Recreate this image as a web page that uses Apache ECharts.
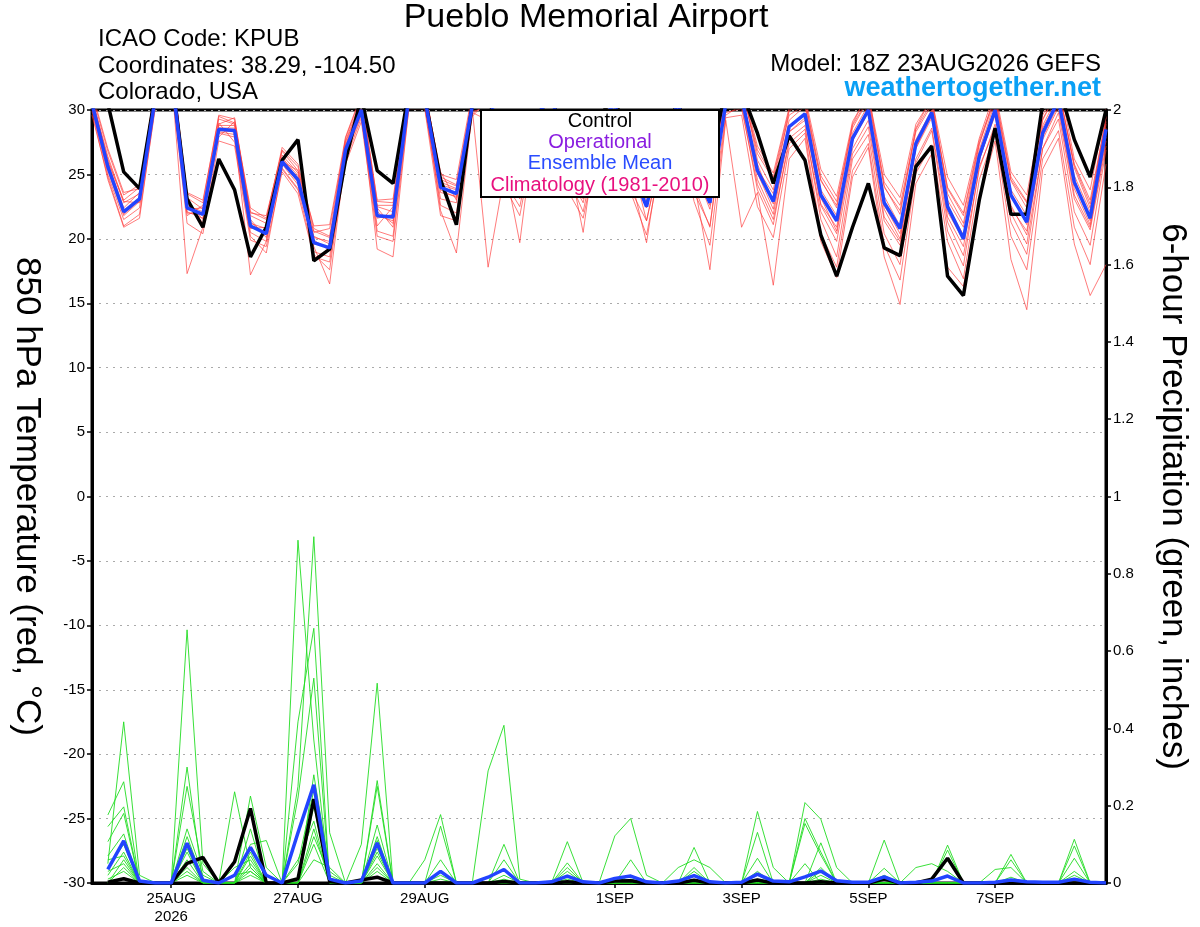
<!DOCTYPE html>
<html>
<head>
<meta charset="utf-8">
<script src="https://cdn.jsdelivr.net/npm/echarts@6/dist/echarts.min.js"></script>
<style>
html,body{margin:0;padding:0;background:#fff;overflow:hidden;}
#chart{width:1200px;height:927px;}
</style>
</head>
<body>
<div id="chart"></div>
<script>
// ---- time steps: 6-hourly from 18Z 23AUG2026 (65 steps) ----
const steps = Array.from({length: 65}, (_, i) => String(i * 6));
const tickIndex = [5, 13, 21, 33, 41, 49, 57];
const tickText = ['25AUG\n2026', '27AUG', '29AUG', '1SEP', '3SEP', '5SEP', '7SEP'];

// ---- 850 hPa temperature (°C) ----
const tempControl = [
 31.5,30.5,25.2,23.9, 31.3,33.0,23.1,20.9, 26.2,23.8,18.6,20.9, 26.1,27.7,18.3,19.2,
 26.1,31.0,25.3,24.3, 31.5,31.0,24.6,21.1, 30.5,31.0,27.0,25.0, 29.5,31.0,27.0,25.5,
 29.5,31.0,26.5,24.0, 28.5,30.5,27.0,26.0, 31.5,31.5,28.2,24.3, 28.0,26.1,20.3,17.1,
 20.9,24.3,19.3,18.7, 25.6,27.2,17.1,15.6, 23.0,28.6,21.9,21.9, 30.5,32.0,27.7,24.8, 30.0];
const tempMean = [
 30.5,25.6,22.1,23.1, 31.0,33.0,22.4,21.9, 28.5,28.4,21.0,20.4, 26.0,24.6,19.7,19.3,
 26.9,30.0,21.8,21.7, 31.0,31.0,24.0,23.5, 30.3,31.5,26.5,24.5, 29.5,31.0,26.5,24.5,
 29.0,30.5,25.5,22.5, 28.0,30.5,25.5,22.8, 30.5,31.0,25.3,22.9, 28.7,29.7,23.4,21.4,
 27.8,30.0,22.8,20.8, 27.4,29.8,22.5,20.0, 26.4,30.0,23.4,21.3, 28.2,30.8,24.4,21.6, 28.5];
const tempM01 = [30.8,26.2,22.8,23.5, 31.5,33.5,23.0,21.2, 29.0,27.5,20.5,19.8, 26.5,25.1,19.0,18.6, 27.5,30.5,22.4,20.9, 31.2,30.2,23.1,22.8, 30.8,32.0,27.2,25.0, 30.1,30.5,25.8,23.1, 28.4,31.2,26.3,21.4, 27.2,29.6,24.1,20.9, 31.0,32.2,26.1,23.8, 29.9,30.8,24.5,22.6, 28.9,31.4,24.1,21.9, 28.6,31.0,23.5,21.2, 27.3,31.2,24.8,22.9, 29.6,31.8,25.5,22.4, 29.5];
const tempM02 = [30.1,25.0,21.5,22.4, 30.6,32.4,21.8,22.6, 27.9,29.1,21.8,21.2, 25.4,23.8,20.6,20.1, 26.1,29.4,21.0,22.5, 30.4,31.8,24.8,24.2, 29.7,30.6,25.5,23.6, 28.8,31.6,27.1,25.3, 29.7,29.8,24.6,23.2, 28.6,31.3,26.7,24.1, 29.8,30.1,24.2,21.5, 27.4,28.5,22.1,19.8, 26.6,28.7,21.4,19.5, 26.2,28.6,21.3,18.7, 25.4,28.9,22.0,19.6, 27.0,29.8,23.1,20.7, 27.2];
const tempM03 = [31.2,26.8,23.4,24.2, 31.8,33.9,23.5,22.8, 29.6,29.3,22.1,21.5, 27.1,25.8,20.8,20.2, 27.8,31.1,23.0,23.1, 31.8,31.5,25.2,23.0, 31.0,32.8,27.8,26.2, 30.6,32.1,27.4,25.6, 30.2,31.8,26.9,24.0, 29.2,31.8,27.0,23.9, 31.6,31.9,27.2,25.1, 30.2,31.1,25.4,23.3, 29.1,31.2,25.0,23.2, 28.9,30.9,24.8,22.6, 27.8,31.5,25.2,23.4, 30.1,32.4,26.2,23.8, 30.2];
const tempM04 = [29.6,24.8,21.0,21.9, 30.2,32.8,17.3,20.9, 28.2,27.9,20.2,18.9, 25.5,23.9,18.8,17.6, 26.4,29.6,20.6,20.2, 30.6,30.4,22.6,22.0, 29.8,29.2,24.2,21.8, 28.2,29.8,23.8,21.6, 27.5,29.4,23.6,20.3, 26.6,28.6,22.9,19.5, 29.4,29.6,22.5,20.1, 27.0,28.2,20.4,17.8, 25.3,27.4,19.5,16.8, 25.1,27.3,19.8,16.9, 24.6,28.2,20.2,17.6, 26.2,28.4,20.9,18.0, 25.8];
const tempM05 = [30.4,25.9,22.4,23.6, 31.3,33.1,22.9,21.5, 28.8,28.8,21.2,20.8, 26.3,24.9,19.9,19.1, 27.2,30.2,21.8,21.4, 31.1,31.2,24.4,23.9, 30.1,17.8,24.8,24.3, 29.6,31.2,26.2,24.8, 29.1,30.6,25.4,22.4, 28.2,30.7,25.9,22.6, 30.6,31.2,25.8,22.7, 28.8,29.6,23.2,20.6, 27.6,29.8,22.6,20.4, 27.5,29.6,22.6,20.3, 26.6,30.2,23.4,21.1, 28.6,30.9,24.6,21.4, 28.6];
const tempM06 = [30.9,26.4,22.9,22.8, 30.8,32.6,22.3,22.4, 28.3,28.1,17.2,19.8, 25.8,24.2,19.4,16.5, 26.5,29.8,19.2,18.6, 30.2,30.8,22.2,18.9, 29.9,30.2,25.4,23.1, 29.1,30.9,25.1,22.8, 28.6,30.4,24.8,19.7, 27.6,29.9,24.4,17.6, 29.2,20.9,23.6,16.4, 26.2,27.8,19.8,17.0, 24.8,27.1,18.6,14.9, 24.3,26.6,17.8,16.3, 23.1,27.6,18.4,14.5, 25.4,27.8,19.6,15.6, 18.0];
const tempM07 = [30.2,25.3,21.8,22.9, 31.1,33.3,22.6,22.1, 28.6,28.6,20.8,20.9, 25.9,24.4,20.2,19.6, 26.8,30.3,22.1,21.2, 30.9,30.9,23.6,23.3, 30.6,31.6,26.6,24.9, 29.9,31.1,26.7,20.5, 29.4,31.0,25.9,22.9, 28.0,30.4,25.4,22.3, 30.4,30.9,25.1,22.3, 28.3,29.4,22.7,20.9, 27.8,30.1,22.3,20.0, 27.0,29.4,21.7,19.4, 26.2,29.6,22.4,20.6, 27.9,30.4,23.9,21.1, 27.9];
const tempM08 = [31.0,26.0,23.0,24.0, 31.6,33.8,23.6,23.0, 29.3,28.9,22.0,21.8, 26.8,25.3,21.0,21.1, 27.9,31.2,22.9,22.8, 31.6,31.6,25.0,24.6, 31.3,32.4,27.4,25.5, 30.4,32.0,27.6,26.0, 30.1,31.6,27.1,24.6, 29.0,31.5,26.8,24.4, 31.4,31.6,26.9,24.8, 30.0,30.8,24.9,22.9, 28.8,30.9,24.4,22.6, 28.5,30.6,24.0,22.0, 27.6,31.0,24.6,22.8, 29.3,31.6,25.8,23.0, 29.4];
const tempM09 = [29.9,24.6,20.9,21.6, 30.4,32.2,21.2,20.4, 27.6,27.2,19.9,19.4, 25.2,23.5,18.6,18.2, 25.8,29.1,20.2,19.8, 30.1,30.1,21.8,21.4, 29.5,30.8,24.5,22.5, 28.4,30.6,24.9,22.1, 28.1,30.1,23.8,21.4, 27.0,29.4,23.6,21.0, 29.6,30.4,23.8,21.1, 27.8,28.8,21.5,18.6, 26.2,28.1,20.4,18.0, 25.9,28.4,20.6,17.9, 25.6,28.6,21.3,18.8, 27.0,29.3,22.1,19.5, 26.9];
const tempM10 = [30.6,25.5,22.2,23.2, 31.0,33.0,22.1,21.6, 28.9,29.4,21.5,20.1, 26.0,25.3,20.1,19.8, 27.3,30.6,22.5,22.1, 31.4,31.3,24.2,23.8, 30.4,31.2,26.3,24.4, 29.4,30.8,26.0,24.2, 29.2,30.9,25.5,23.4, 28.4,30.9,25.8,23.0, 30.8,31.4,25.4,23.5, 29.2,30.3,23.8,21.8, 28.2,30.4,23.3,21.0, 27.7,30.0,23.0,20.9, 26.9,30.6,23.8,21.8, 28.8,31.2,24.9,22.1, 28.9];
const tempM11 = [30.3,25.8,21.9,23.0, 30.9,32.8,22.0,21.9, 28.4,28.3,21.3,20.3, 26.2,24.7,19.6,19.4, 26.9,30.0,21.6,21.9, 31.0,31.1,23.8,23.2, 30.5,31.3,26.0,19.7, 29.5,31.0,26.4,24.2, 29.0,30.7,25.7,23.3, 28.5,30.8,26.1,23.1, 30.3,30.6,24.6,21.9, 28.3,29.2,22.6,20.4, 27.0,29.2,21.7,19.8, 27.1,29.6,22.1,19.9, 26.1,29.8,22.6,20.3, 27.7,30.2,23.4,20.9, 27.6];
const tempM12 = [31.4,27.0,23.6,23.9, 31.9,34.0,23.2,22.3, 29.5,29.0,22.4,21.6, 26.9,25.6,20.5,20.8, 27.6,30.8,22.6,22.6, 31.7,31.4,24.6,24.1, 31.1,32.5,27.1,25.8, 30.8,31.8,27.2,25.4, 30.0,31.5,26.6,24.5, 29.1,31.4,26.5,24.3, 31.2,31.8,26.6,24.6, 29.6,30.4,24.6,22.4, 28.6,30.8,24.0,22.2, 28.3,30.4,23.9,21.8, 27.4,30.8,24.5,22.4, 29.2,31.6,25.7,22.7, 29.1];
const tempMembers = [tempM01,tempM02,tempM03,tempM04,tempM05,tempM06,tempM07,tempM08,tempM09,tempM10,tempM11,tempM12];

// ---- 6-hour precipitation (inches) ----
const precControl = [
 null,0.002,0.011,0,0,0,0.051,0.066, 0,0.055,0.193,0,0,0.011,0.217,0.004,
 0,0.008,0.015,0,0,0,0,0, 0,0,0.004,0,0,0,0.003,0,
 0,0.005,0.006,0,0,0,0.007,0, 0,0,0.008,0,0,0,0.003,0,
 0,0,0.01,0,0,0.01,0.064,0, 0,0,0,0,0,0,0,0, 0];
const precMean = [
 null,0.035,0.109,0.005,0,0,0.103,0.007, 0,0.02,0.092,0.02,0,0.13,0.254,0.01,
 0,0.005,0.104,0,0,0,0.03,0, 0,0.015,0.035,0,0,0.003,0.018,0.003,
 0,0.012,0.018,0.003,0,0.005,0.019,0.003, 0,0.002,0.023,0.005,0.003,0.016,0.031,0.006,
 0.002,0.002,0.016,0,0.002,0.005,0.018,0, 0,0.002,0.008,0.003,0.002,0.002,0.01,0.002, 0];
const precM01 = [null,0.05,0.417,0.02,0,0,0.14,0.02, 0,0,0.1,0.11,0,0.25,0.896,0.13, 0,0,0.265,0,0,0,0.06,0, 0,0,0.1,0,0,0,0.052,0, 0,0,0.06,0,0,0,0.04,0, 0,0,0.185,0.04,0,0,0.104,0, 0,0,0.038,0,0,0,0.098,0, 0,0,0.074,0,0,0,0.113,0, 0];
const precM02 = [null,0.176,0.262,0,0,0,0.655,0.05, 0,0.236,0.04,0,0,0.887,0.37,0, 0,0.1,0.517,0,0,0.06,0.177,0, 0,0.29,0.408,0.01,0,0,0.107,0, 0,0.122,0.167,0.02,0,0,0.092,0, 0,0,0.131,0,0,0.208,0.165,0.04, 0,0,0.111,0,0,0,0.085,0, 0,0,0.06,0,0,0,0.096,0, 0];
const precM03 = [null,0.146,0.197,0,0,0,0.3,0, 0,0,0.225,0.04,0,0.417,0.659,0, 0,0,0.25,0,0,0,0.147,0, 0,0,0.06,0,0,0,0.04,0, 0,0,0,0,0,0.04,0.06,0.04, 0,0,0.064,0,0,0.167,0.08,0, 0,0,0,0,0.04,0.05,0.03,0, 0,0.035,0.04,0,0,0,0.064,0, 0];
const precM04 = [null,0.107,0.18,0,0,0,0.25,0.03, 0,0,0.14,0,0,0.22,0.53,0, 0,0,0.15,0,0,0,0.03,0, 0,0,0,0,0,0,0,0, 0,0,0.02,0,0,0,0,0, 0,0,0.03,0,0,0.154,0.072,0, 0,0,0,0,0,0,0.02,0, 0,0,0,0,0,0,0.03,0, 0];
const precM05 = [null,0.07,0.127,0,0,0,0.1,0, 0,0,0.08,0,0,0,0.28,0.03, 0,0,0.12,0,0,0,0,0, 0,0,0,0,0,0,0.02,0, 0,0,0,0,0,0,0,0, 0,0,0,0,0,0,0.04,0, 0,0,0.02,0,0,0,0,0, 0,0,0,0,0,0,0.02,0, 0];
const precM06 = [null,0.04,0.1,0,0,0,0.08,0, 0,0.04,0.06,0,0,0,0.2,0, 0,0,0.09,0,0,0,0.02,0, 0,0,0,0,0,0,0,0, 0,0,0,0,0,0,0.02,0, 0,0,0.02,0,0,0,0.03,0, 0,0,0,0,0,0,0,0, 0,0,0,0,0,0,0,0, 0];
const precM07 = [null,0.02,0.08,0,0,0,0.06,0, 0,0,0.05,0,0,0.06,0.16,0, 0,0,0.07,0,0,0,0,0, 0,0,0.02,0,0,0,0,0, 0,0,0,0,0,0,0,0, 0,0,0,0,0,0,0.02,0, 0,0,0,0,0,0,0,0, 0,0,0.015,0,0,0,0,0, 0];
const precM08 = [null,0,0.06,0,0,0,0.04,0, 0,0,0.03,0,0,0,0.12,0.02, 0,0,0.05,0,0,0,0,0, 0,0,0,0,0,0,0.01,0, 0,0,0.01,0,0,0,0,0, 0,0,0,0,0,0,0,0, 0,0,0,0,0,0,0,0, 0,0,0,0,0,0,0,0, 0];
const precM09 = [null,0.03,0.05,0,0,0,0.12,0.01, 0,0,0.07,0,0,0,0.1,0, 0,0,0.08,0,0,0,0,0, 0,0,0.01,0,0,0,0,0, 0,0,0,0,0,0,0,0, 0,0,0.01,0,0,0.05,0,0, 0,0,0,0,0,0,0,0, 0,0,0,0,0,0,0,0, 0];
const precM10 = [null,0,0.04,0,0,0,0.03,0, 0,0,0.02,0,0,0.05,0.24,0, 0,0,0.04,0,0,0,0,0, 0,0,0,0,0,0,0.03,0, 0,0,0,0,0,0,0.03,0, 0,0,0,0,0,0,0,0, 0,0,0,0,0,0,0,0, 0,0,0,0,0,0,0,0, 0];
const precM11 = [null,0.01,0.03,0,0,0,0.02,0, 0,0,0.04,0,0,0,0.14,0, 0,0,0.03,0,0,0,0.01,0, 0,0,0,0,0,0,0,0, 0,0,0,0,0,0,0,0, 0,0,0,0,0,0,0.01,0, 0,0,0,0,0,0,0,0, 0,0,0,0,0,0,0,0, 0];
const precM12 = [null,0.06,0.07,0,0,0,0.09,0, 0,0.02,0.03,0,0,0,0.06,0.04, 0,0,0.11,0,0,0,0,0, 0,0,0,0,0,0,0,0, 0,0,0,0,0,0,0,0, 0,0,0,0,0,0,0,0, 0,0,0.01,0,0,0,0,0, 0,0,0,0,0,0,0,0, 0];
const precMembers = [precM01,precM02,precM03,precM04,precM05,precM06,precM07,precM08,precM09,precM10,precM11,precM12];

// ---- chart ----
const FONT = '"Liberation Sans", Arial, Helvetica, sans-serif';
const chart = echarts.init(document.getElementById('chart'), null, {renderer: 'canvas'});

const series = [];
tempMembers.forEach((d, k) => series.push({
  name: 'tm' + k, type: 'line', data: d, yAxisIndex: 0, symbol: 'none', silent: true,
  lineStyle: {color: '#ff3c3c', width: 0.8, opacity: 0.85}, z: 2
}));
precMembers.forEach((d, k) => series.push({
  name: 'pm' + k, type: 'line', data: d, yAxisIndex: 1, symbol: 'none', silent: true,
  lineStyle: {color: '#22dd22', width: 0.9}, z: 2
}));
series.push({name: 'Control T', type: 'line', data: tempControl, yAxisIndex: 0, symbol: 'none',
  lineStyle: {color: '#000', width: 3.5}, z: 4});
series.push({name: 'Mean T', type: 'line', data: tempMean, yAxisIndex: 0, symbol: 'none',
  lineStyle: {color: '#2244ff', width: 3.5}, z: 5});
series.push({name: 'Control P', type: 'line', data: precControl, yAxisIndex: 1, symbol: 'none',
  lineStyle: {color: '#000', width: 3.5}, z: 4});
series.push({name: 'Mean P', type: 'line', data: precMean, yAxisIndex: 1, symbol: 'none',
  lineStyle: {color: '#2244ff', width: 3.5}, z: 5});

const isTick = (idx) => tickIndex.indexOf(idx) >= 0;

chart.setOption({
  animation: false,
  backgroundColor: '#fff',
  textStyle: {fontFamily: FONT},
  grid: {left: 92, right: 94, top: 110, bottom: 44, show: true, borderColor: '#000', borderWidth: 3,
         containLabel: false, outerBoundsMode: 'none'},
  xAxis: {
    type: 'category', data: steps, boundaryGap: false,
    axisLine: {show: true, onZero: false, lineStyle: {color: '#000', width: 3}},
    axisTick: {show: true, interval: (idx) => isTick(idx), length: 5, lineStyle: {color: '#000', width: 1.5}},
    axisLabel: {interval: (idx) => isTick(idx), formatter: (v, idx) => {
        const k = tickIndex.indexOf(Number(v) / 6); return k >= 0 ? tickText[k] : ''; },
      fontSize: 15, color: '#000', fontFamily: FONT, lineHeight: 18, margin: 7},
    splitLine: {show: false}
  },
  yAxis: [{
    type: 'value', min: -30, max: 30, interval: 5, position: 'left',
    axisLine: {show: true, lineStyle: {color: '#000', width: 3}},
    axisTick: {show: true, length: 5, lineStyle: {color: '#000', width: 1.5}},
    axisLabel: {fontSize: 15, color: '#000', fontFamily: FONT, margin: 7},
    splitLine: {show: true, lineStyle: {color: '#aaaaaa', type: [2, 5], width: 1}},
    name: '850 hPa Temperature (red, \u00B0C)', nameLocation: 'middle', nameRotate: -90, nameGap: 48,
    nameTextStyle: {fontSize: 35, color: '#000', fontFamily: FONT}
  }, {
    type: 'value', min: 0, max: 2, interval: 0.2, position: 'right',
    axisLine: {show: true, lineStyle: {color: '#000', width: 3}},
    axisTick: {show: true, length: 5, lineStyle: {color: '#000', width: 1.5}},
    axisLabel: {fontSize: 15, color: '#000', fontFamily: FONT, margin: 7,
      formatter: (v) => String(Math.round(v * 10) / 10)},
    splitLine: {show: false},
    name: '6-hour Precipitation (green, inches)', nameLocation: 'middle', nameRotate: -90, nameGap: 49,
    nameTextStyle: {fontSize: 35, color: '#000', fontFamily: FONT}
  }],
  series: series,
  graphic: [
    {type: 'text', style: {text: 'Pueblo Memorial Airport', x: 586, y: 18, align: 'center', verticalAlign: 'middle', font: '34px ' + FONT, fill: '#000'}, z: 100},
    {type: 'text', style: {text: 'ICAO Code: KPUB', x: 98, y: 39, verticalAlign: 'middle', font: '24px ' + FONT, fill: '#000'}, z: 100},
    {type: 'text', style: {text: 'Coordinates: 38.29, -104.50', x: 98, y: 66, verticalAlign: 'middle', font: '24px ' + FONT, fill: '#000'}, z: 100},
    {type: 'text', style: {text: 'Colorado, USA', x: 98, y: 92, verticalAlign: 'middle', font: '24px ' + FONT, fill: '#000'}, z: 100},
    {type: 'text', style: {text: 'Model: 18Z 23AUG2026 GEFS', x: 1101, y: 64, align: 'right', verticalAlign: 'middle', font: '24px ' + FONT, fill: '#000'}, z: 100},
    {type: 'text', style: {text: 'weathertogether.net', x: 1101, y: 89, align: 'right', verticalAlign: 'middle', font: 'bold 27px ' + FONT, fill: '#0aa0f5'}, z: 100},
    {type: 'rect', shape: {x: 481, y: 110, width: 238, height: 87}, style: {fill: '#fff', stroke: '#000', lineWidth: 2}, z: 100},
    {type: 'text', style: {text: 'Control', x: 600, y: 121, align: 'center', verticalAlign: 'middle', font: '20px ' + FONT, fill: '#000'}, z: 101},
    {type: 'text', style: {text: 'Operational', x: 600, y: 142, align: 'center', verticalAlign: 'middle', font: '20px ' + FONT, fill: '#8a1de0'}, z: 101},
    {type: 'text', style: {text: 'Ensemble Mean', x: 600, y: 163, align: 'center', verticalAlign: 'middle', font: '20px ' + FONT, fill: '#2a4cff'}, z: 101},
    {type: 'text', style: {text: 'Climatology (1981-2010)', x: 600, y: 185, align: 'center', verticalAlign: 'middle', font: '20px ' + FONT, fill: '#e8107e'}, z: 101}
  ]
});
</script>
</body>
</html>
